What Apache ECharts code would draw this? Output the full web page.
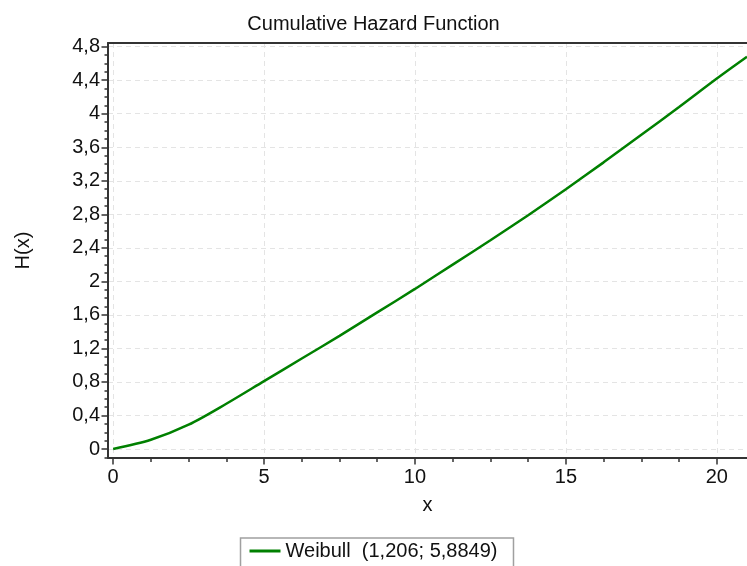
<!DOCTYPE html>
<html>
<head>
<meta charset="utf-8">
<title>Cumulative Hazard Function</title>
<script src="https://cdn.jsdelivr.net/npm/echarts@6/dist/echarts.min.js"></script>
</head>
<body style="margin:0">
<div id="main" style="width:747px;height:566px;"></div>
<script type="text/javascript">
var chart = echarts.init(document.getElementById('main'));

// values
var xValues = [0, 1.25, 2.5, 3.75, 5, 6.25, 7.5, 8.75, 10, 11.25, 12.5, 13.75, 15, 16.25, 17.5, 18.75, 20, 21];
var hValues = [0, 0.11, 0.29, 0.54, 0.81, 1.08, 1.35, 1.63, 1.91, 2.20, 2.49, 2.79, 3.10, 3.42, 3.75, 4.08, 4.42, 4.68];
var xTicks = [0, 5, 10, 15, 20];
var yTicks = [0, 0.4, 0.8, 1.2, 1.6, 2, 2.4, 2.8, 3.2, 3.6, 4, 4.4, 4.8];
var seriesName = 'Weibull  (1,206; 5,8849)';

var points = xValues.map(function (x, i) { return [x, hValues[i]]; });

// minor tick positions: 4 steps between majors
function minors(ticks, step, from, to) {
    var out = [];
    for (var v = from; v <= to + 1e-9; v += step) {
        var r = +v.toFixed(3);
        if (ticks.indexOf(r) < 0) out.push(r);
    }
    return out;
}
var xMinor = minors(xTicks, 1.25, 0, 21);
var yMinor = minors(yTicks, 0.1, -0.1, 4.8);

function comma(v) {
    return String(+(+v).toFixed(1)).replace('.', ',');
}

var font = 'Liberation Sans, Arial, sans-serif';
var frame = '#333';
var txt = '#111';
var X_MIN = -0.17, X_MAX = 21, Y_MIN = -0.107, Y_MAX = 4.844;
var gridLine = { show: true, lineStyle: { color: '#e4e4e4', type: [5, 4], width: 1 } };

var option = {
    animation: false,
    title: {
        text: 'Cumulative Hazard Function',
        left: 'center',
        top: 9,
        textStyle: { fontFamily: font, fontSize: 20, fontWeight: 'normal', color: txt }
    },
    legend: {
        top: 538,
        left: 'center',
        data: [{ name: seriesName, icon: 'rect' }],
        itemWidth: 31,
        itemHeight: 3,
        padding: [3, 16, 10, 9],
        borderColor: '#a0a0a0',
        borderWidth: 1.5,
        textStyle: { fontFamily: font, fontSize: 20, color: txt }
    },
    grid: { left: 108, right: 0, top: 43, bottom: 108 },
    xAxis: [{
        type: 'value',
        min: X_MIN,
        max: X_MAX,
        name: 'x',
        nameLocation: 'middle',
        nameGap: 37,
        nameTextStyle: { fontFamily: font, fontSize: 20, color: txt },
        axisLine: { show: true, onZero: false, lineStyle: { color: frame, width: 2 } },
        axisTick: { show: true, length: 6.5, customValues: xTicks, lineStyle: { color: frame, width: 1.5 } },
        axisLabel: { fontFamily: font, fontSize: 20, color: txt, margin: 9, customValues: xTicks },
        splitLine: gridLine
    }, {
        type: 'value',
        position: 'top',
        min: X_MIN,
        max: X_MAX,
        axisLine: { show: true, onZero: false, lineStyle: { color: frame, width: 2 } },
        axisTick: { show: false },
        axisLabel: { show: false },
        splitLine: { show: false }
    }, {
        type: 'value',
        position: 'bottom',
        min: X_MIN,
        max: X_MAX,
        axisLine: { show: false, onZero: false },
        axisTick: { show: true, length: 4, customValues: xMinor, lineStyle: { color: frame, width: 1.5 } },
        axisLabel: { show: false },
        splitLine: { show: false }
    }],
    yAxis: [{
        type: 'value',
        min: Y_MIN,
        max: Y_MAX,
        name: 'H(x)',
        nameLocation: 'middle',
        nameGap: 75,
        nameTextStyle: { fontFamily: font, fontSize: 20, color: txt },
        axisLine: { show: true, onZero: false, lineStyle: { color: frame, width: 2 } },
        axisTick: { show: true, length: 6.5, customValues: yTicks, lineStyle: { color: frame, width: 1.5 } },
        axisLabel: { fontFamily: font, fontSize: 20, color: txt, margin: 8, customValues: yTicks, formatter: comma },
        splitLine: gridLine
    }, {
        type: 'value',
        position: 'left',
        min: Y_MIN,
        max: Y_MAX,
        axisLine: { show: false, onZero: false },
        axisTick: { show: true, length: 3.5, customValues: yMinor, lineStyle: { color: frame, width: 1.5 } },
        axisLabel: { show: false },
        splitLine: { show: false }
    }],
    series: [{
        name: seriesName,
        type: 'line',
        data: points,
        smooth: 0.3,
        showSymbol: false,
        color: '#008000',
        lineStyle: { width: 2.5, color: '#008000' }
    }]
};
chart.setOption(option);
</script>
</body>
</html>
